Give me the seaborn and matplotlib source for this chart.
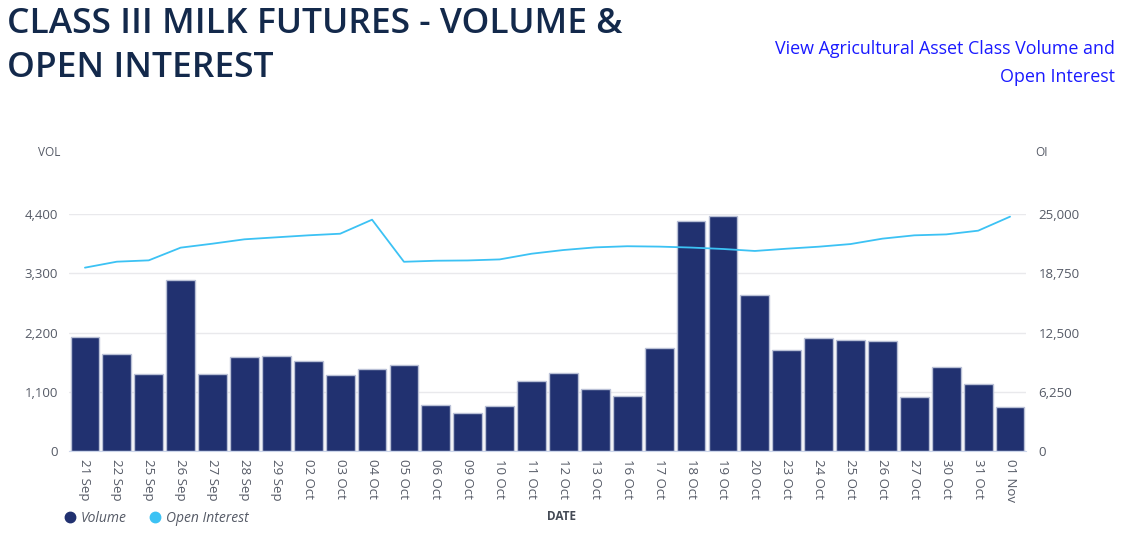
import numpy as np
import pandas as pd
import matplotlib
matplotlib.use("Agg")
import matplotlib.pyplot as plt
from matplotlib.lines import Line2D
from matplotlib.ticker import FuncFormatter
import seaborn as sns

# ---------------------------------------------------------------------------
# Data
# ---------------------------------------------------------------------------
DATES = ["21 Sep", "22 Sep", "25 Sep", "26 Sep", "27 Sep", "28 Sep", "29 Sep",
         "02 Oct", "03 Oct", "04 Oct", "05 Oct", "06 Oct", "09 Oct", "10 Oct",
         "11 Oct", "12 Oct", "13 Oct", "16 Oct", "17 Oct", "18 Oct", "19 Oct",
         "20 Oct", "23 Oct", "24 Oct", "25 Oct", "26 Oct", "27 Oct", "30 Oct",
         "31 Oct", "01 Nov"]

VOLUME = [2110, 1807, 1435, 3181, 1424, 1740, 1758, 1671, 1405, 1523,
          1591, 848, 700, 830, 1294, 1443, 1146, 1027, 1912, 4270,
          4356, 2890, 1881, 2104, 2054, 2036, 1002, 1553, 1250, 823]

OPEN_INTEREST = [19340, 19970, 20110, 21450, 21870, 22330, 22540, 22750, 22920, 24400,
                 19960, 20070, 20100, 20210, 20810, 21200, 21480, 21600, 21560, 21460,
                 21310, 21100, 21340, 21550, 21830, 22400, 22750, 22850, 23240, 24720]

VOL_TICKS = [0, 1100, 2200, 3300, 4400]
OI_TICKS  = [0, 6250, 12500, 18750, 25000]

# ---------------------------------------------------------------------------
# Style
# ---------------------------------------------------------------------------
NAVY     = "#213170"
LIGHT    = "#3cc2f4"
TITLE_C  = "#13294b"
TEXT_COL = "#555a66"
GRID_COL = "#e9e9ec"
AXIS_COL = "#ccd6eb"

sns.set_style("white")
plt.rcParams["font.family"] = ["Open Sans", "DejaVu Sans"]

df = pd.DataFrame({"date": DATES, "volume": VOLUME, "oi": OPEN_INTEREST})
df["pos"] = np.arange(len(df))

W, H = 1132, 536
fig = plt.figure(figsize=(W / 100, H / 100), dpi=100)
ax = fig.add_axes([69 / W, 1 - 451 / H, (1026 - 69) / W, (451 - 214) / H])

sns.barplot(data=df, x="date", y="volume", ax=ax, color=NAVY, saturation=1,
            width=0.9, edgecolor="#b9c0d6", linewidth=1.0, zorder=2)
ax.set_xlim(-0.5, len(df) - 0.5)
ax.set_ylim(0, VOL_TICKS[-1])
ax.set_yticks(VOL_TICKS)
ax.yaxis.set_major_formatter(FuncFormatter(lambda v, _: f"{v:,.0f}"))
ax.grid(axis="y", color=GRID_COL, linewidth=1, zorder=0)
ax.set_axisbelow(True)
ax.set_xlabel("")
ax.set_ylabel("")
ax.tick_params(axis="y", length=0, pad=8, labelsize=9.5, colors=TEXT_COL)
ax.tick_params(axis="x", length=0, pad=6, labelsize=9.5, colors=TEXT_COL)
for lbl in ax.get_xticklabels():
    lbl.set_rotation(-90)
    lbl.set_ha("center")
    lbl.set_va("top")
for name, sp in ax.spines.items():
    sp.set_visible(name == "bottom")
ax.spines["bottom"].set_color(AXIS_COL)

ax2 = ax.twinx()
sns.lineplot(data=df, x="pos", y="oi", ax=ax2, color=LIGHT, linewidth=1.3, zorder=3)
ax2.set_ylim(0, OI_TICKS[-1])
ax2.set_yticks(OI_TICKS)
ax2.yaxis.set_major_formatter(FuncFormatter(lambda v, _: f"{v:,.0f}"))
ax2.set_ylabel("")
ax2.tick_params(axis="y", length=0, pad=9, labelsize=9.5, colors=TEXT_COL)
ax2.grid(False)
for sp in ax2.spines.values():
    sp.set_visible(False)

# Title (two lines, placed on their baselines) and link
title_kw = dict(ha="left", va="baseline", fontsize=25.5, fontweight="semibold", color=TITLE_C)
fig.text(7 / W, 1 - 33 / H, "CLASS III MILK FUTURES - VOLUME &", **title_kw)
fig.text(7 / W, 1 - 77 / H, "OPEN INTEREST", **title_kw)
fig.text(1115 / W, 1 - 40 / H, "View Agricultural Asset Class Volume and\nOpen Interest",
         ha="right", va="top", fontsize=12.9, color="#1a1aff", linespacing=1.7)

# Axis titles
fig.text(38 / W, 1 - 153 / H, "VOL", ha="left", va="center", fontsize=8.5, color=TEXT_COL)
fig.text(1035 / W, 1 - 153 / H, "OI", ha="left", va="center", fontsize=8.5, color=TEXT_COL)
fig.text(562 / W, 1 - 517 / H, "DATE", ha="center", va="center", fontsize=8.5,
         fontweight="bold", color="#444a55")

# Legend
handles = [
    Line2D([], [], marker="o", linestyle="", color=NAVY, markersize=7.5, label="Volume"),
    Line2D([], [], marker="o", linestyle="", color=LIGHT, markersize=7.5, label="Open Interest"),
]
leg = fig.legend(handles=handles, loc="center left", bbox_to_anchor=(56 / W, 1 - 518 / H),
                 ncol=2, frameon=False, handletextpad=-0.2, columnspacing=1.0,
                 prop={"style": "italic", "size": 10}, borderaxespad=0, borderpad=0)
for t in leg.get_texts():
    t.set_color("#555a66")

fig.savefig("out.png", dpi=100)
